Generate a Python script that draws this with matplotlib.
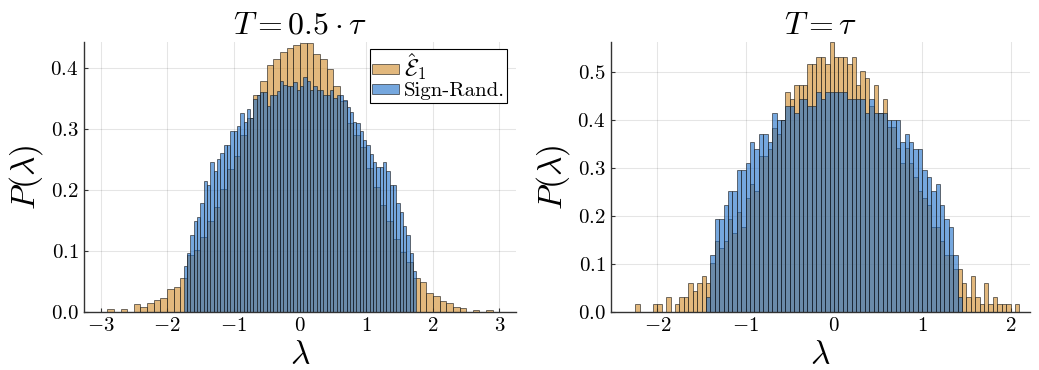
import numpy as np
import matplotlib
matplotlib.use("Agg")
import matplotlib.pyplot as plt

plt.rcParams['mathtext.fontset'] = 'cm'
plt.rcParams['font.family'] = ['cmr10', 'DejaVu Serif']
plt.rcParams['axes.formatter.use_mathtext'] = True

# ---------------- data ----------------
# Left panel: T = 0.5 tau
left_orange_start = -3.0
left_orange_width = 0.1
left_orange = [0, 0.004, 0, 0.004, 0, 0.012, 0.007, 0.015, 0.019, 0.022,
               0.037, 0.040, 0.056, 0.093, 0.101, 0.123, 0.149, 0.171, 0.201, 0.234,
               0.256, 0.290, 0.318, 0.356, 0.378, 0.404, 0.415, 0.426, 0.433, 0.437,
               0.4415, 0.4415, 0.422, 0.414, 0.399, 0.370, 0.345, 0.310, 0.290, 0.270,
               0.235, 0.205, 0.175, 0.149, 0.120, 0.098, 0.082, 0.056, 0.048, 0.030,
               0.026, 0.018, 0.014, 0.008, 0.0066, 0, 0.003, 0, 0.003, 0]

left_blue_start = -1.75
left_blue_width = 0.05
left_blue = [0.075, 0.096, 0.126, 0.148, 0.156, 0.178, 0.215, 0.208, 0.245, 0.231,
             0.251, 0.260, 0.274, 0.274, 0.296, 0.296, 0.304, 0.326, 0.311, 0.333,
             0.318, 0.349, 0.355, 0.360, 0.360, 0.337, 0.355, 0.356, 0.362, 0.378,
             0.372, 0.370, 0.370, 0.377, 0.363,
             0.370, 0.385, 0.378, 0.363, 0.370, 0.363, 0.363, 0.356, 0.356, 0.363,
             0.351, 0.356, 0.356, 0.347, 0.336, 0.327, 0.312, 0.310, 0.296, 0.281,
             0.274, 0.259, 0.245, 0.238, 0.238, 0.245, 0.231, 0.208, 0.208, 0.178,
             0.164, 0.141, 0.126, 0.096, 0.066]

# Right panel: T = tau
right_orange_start = -2.30
right_orange_width = 0.05
right_orange = [0, 0.015, 0, 0, 0, 0.015, 0.015, 0, 0.030, 0,
                0.015, 0.030, 0.030, 0.059, 0.044, 0.059, 0.075, 0.059, 0.102, 0.148,
                0.133, 0.148, 0.192, 0.163, 0.207, 0.177, 0.236, 0.265, 0.251, 0.325,
                0.325, 0.339, 0.383, 0.369, 0.399, 0.457, 0.442, 0.472, 0.472, 0.472,
                0.516, 0.516, 0.531, 0.531, 0.516, 0.561,
                0.531, 0.531, 0.531, 0.516, 0.531, 0.472, 0.501, 0.487, 0.428, 0.472,
                0.413, 0.442, 0.384, 0.384, 0.340, 0.310, 0.340, 0.310, 0.281, 0.251,
                0.236, 0.222, 0.177, 0.177, 0.148, 0.118, 0.118, 0.088, 0.088, 0.059,
                0.030, 0.074, 0.030, 0.015, 0.059, 0.015, 0.030, 0.015, 0.015, 0.015,
                0, 0.015]

right_blue_start = -1.45
right_blue_width = 0.05
right_blue = [0.030, 0.118, 0.192, 0.192, 0.222, 0.251, 0.251, 0.295, 0.295, 0.310,
              0.354, 0.339, 0.369, 0.369, 0.354, 0.413, 0.399, 0.399, 0.428, 0.428,
              0.413, 0.442, 0.442, 0.428, 0.428, 0.457, 0.442, 0.457, 0.457,
              0.457, 0.457, 0.457, 0.442, 0.442, 0.442, 0.442, 0.413, 0.442, 0.413,
              0.413, 0.413, 0.399, 0.399, 0.399, 0.354, 0.369, 0.354, 0.339, 0.339,
              0.295, 0.281, 0.251, 0.266, 0.222, 0.192, 0.177, 0.118, 0.030]

titles = [r"$T = 0.5\cdot\tau$", r"$T = \tau$"]
legend_labels = [r"$\hat{\mathcal{E}}_1$", "Sign-Rand."]
left_xticks = [-3, -2, -1, 0, 1, 2, 3]
right_xticks = [-2, -1, 0, 1, 2]
left_yticks = [0.0, 0.1, 0.2, 0.3, 0.4]
right_yticks = [0.0, 0.1, 0.2, 0.3, 0.4, 0.5]

# ---------------- style ----------------
ORANGE = '#D08A26'
BLUE = '#1A6CC8'
FALPHA = 0.6
EDGE = (0.1, 0.1, 0.1, 0.4)

W, H = 1039, 370
fig = plt.figure(figsize=(W / 100, H / 100), dpi=100)

ax1 = fig.add_axes([84 / W, 1 - 311.7 / H, (516 - 84) / W, (311.7 - 42) / H])
ax2 = fig.add_axes([611 / W, 1 - 311.7 / H, (1030 - 611) / W, (311.7 - 42) / H])


def draw_hist(ax, start, width, vals, color, label):
    vals = np.asarray(vals, dtype=float)
    edges = start + width * np.arange(len(vals))
    ax.bar(edges, vals, width=width, align='edge', color=color, alpha=FALPHA,
           edgecolor=EDGE, linewidth=0.7, label=label)


def style(ax, xticks, yticks, xlim, ylim, title):
    ax.set_xlim(*xlim)
    ax.set_ylim(*ylim)
    ax.set_xticks(xticks)
    ax.set_yticks(yticks)
    ax.set_xticklabels([r"$%d$" % t if t >= 0 else r"$-%d$" % (-t) for t in xticks])
    ax.set_yticklabels([r"$%.1f$" % t for t in yticks])
    ax.tick_params(direction='in', length=3, labelsize=15, width=0.8, color='#333333',
                   pad=4)
    for s in ['top', 'right']:
        ax.spines[s].set_visible(False)
    for s in ['left', 'bottom']:
        ax.spines[s].set_color('#333333')
        ax.spines[s].set_linewidth(1.0)
    ax.grid(True, color='black', alpha=0.1, linewidth=0.8)
    ax.set_axisbelow(True)
    ax.set_title(title, fontsize=23, pad=6)
    ax.set_xlabel(r"$\lambda$", fontsize=24, labelpad=4)
    ax.set_ylabel(r"$P(\lambda)$", fontsize=24, labelpad=4)


draw_hist(ax1, left_orange_start, left_orange_width, left_orange, ORANGE, legend_labels[0])
draw_hist(ax1, left_blue_start, left_blue_width, left_blue, BLUE, legend_labels[1])
style(ax1, left_xticks, left_yticks, (-3.25, 3.25), (0, 0.4425), titles[0])

draw_hist(ax2, right_orange_start, right_orange_width, right_orange, ORANGE, legend_labels[0])
draw_hist(ax2, right_blue_start, right_blue_width, right_blue, BLUE, legend_labels[1])
style(ax2, right_xticks, right_yticks, (-2.525, 2.22), (0, 0.5615), titles[1])

leg = ax1.legend(loc='upper right', bbox_to_anchor=(1.0 - 9 / 432, 1.0 - 7 / 270),
                 fontsize=15, frameon=True, fancybox=False, edgecolor='black',
                 framealpha=1.0, handlelength=1.3, handleheight=0.4,
                 handletextpad=0.2, borderpad=0.12, labelspacing=0.0,
                 borderaxespad=0.0)
leg.get_frame().set_linewidth(0.8)
texts = leg.get_texts()
texts[0].set_fontsize(17)

fig.savefig('out.png', dpi=100)
